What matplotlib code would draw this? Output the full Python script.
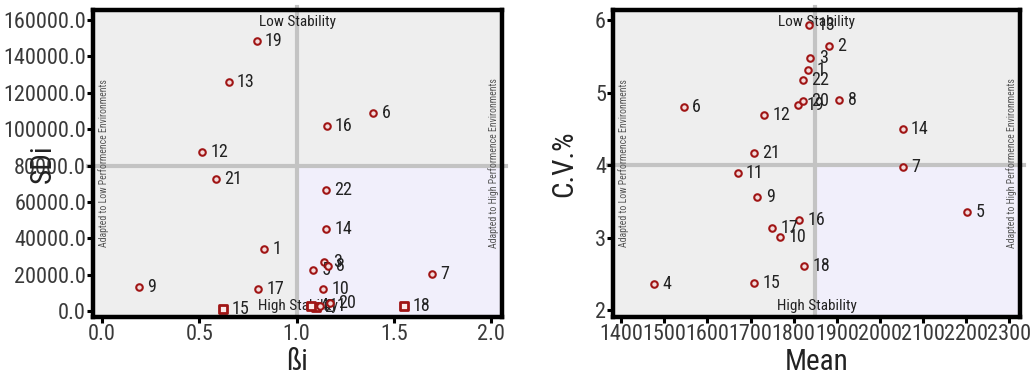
import matplotlib
matplotlib.use("Agg")
import matplotlib.pyplot as plt
from matplotlib import font_manager
from matplotlib.patches import Rectangle

# ---------------- data ----------------
genotypes = ["1", "2", "3", "4", "5", "6", "7", "8", "9", "10", "11",
             "12", "13", "14", "15", "16", "17", "18", "19", "20", "21", "22"]

beta_i = [0.835, 1.10, 1.143, 1.075, 1.085, 1.395, 1.698, 1.160, 0.189, 1.135, 1.12,
          0.513, 0.651, 1.153, 0.624, 1.155, 0.802, 1.553, 0.795, 1.172, 0.586, 1.150]
s2di = [34100, 2300, 26900, 2600, 22500, 109000, 20300, 24900, 13000, 12300, 3000,
        87400, 126000, 45300, 900, 101700, 11900, 2700, 148700, 4500, 72600, 66500]
square_left = ["2", "4", "15", "18"]

mean_yield = [1834, 1881, 1839, 1476, 2202, 1545, 2053, 1906, 1716, 1768, 1670,
              1731, 1835, 2053, 1709, 1812, 1750, 1825, 1810, 1822, 1707, 1821]
cv_pct = [5.31, 5.65, 5.48, 2.36, 3.35, 4.80, 3.97, 4.90, 3.57, 3.01, 3.90,
          4.69, 5.93, 4.50, 2.38, 3.24, 3.13, 2.61, 4.83, 4.88, 4.17, 5.17]

left_xticks = [0.0, 0.5, 1.0, 1.5, 2.0]
left_yticks = [0, 20000, 40000, 60000, 80000, 100000, 120000, 140000, 160000]
right_xticks = [1400, 1500, 1600, 1700, 1800, 1900, 2000, 2100, 2200, 2300]
right_yticks = [2, 3, 4, 5, 6]

left_ref = (1.0, 80000.0)
right_ref = (1850.0, 4.0)

# ---------------- fonts ----------------
avail = {f.name for f in font_manager.fontManager.ttflist}
narrow = None
for cand in ["Liberation Sans Narrow", "Arial Narrow", "DejaVu Sans Condensed",
             "Roboto Condensed", "Open Sans Condensed"]:
    if cand in avail:
        narrow = cand
        break
if narrow is None:
    narrow = "Liberation Sans"
    scale = 0.82
else:
    scale = 1.0
plt.rcParams["font.family"] = [narrow, "DejaVu Sans"]

GRAY_BG = "#eeeeee"
LAV_BG = "#f1effb"
LINE_GRAY = "#c3c3c3"
MK_EDGE = "#a01515"
MK_FACE = "#f3dcdc"
TICK_COL = "#3a3a3a"

fig = plt.figure(figsize=(10.35, 3.88), dpi=100)
ax1 = fig.add_axes([93 / 1035, 1 - 317 / 388, (502 - 93) / 1035, (317 - 10) / 388])
ax2 = fig.add_axes([613 / 1035, 1 - 317 / 388, (1020 - 613) / 1035, (317 - 10) / 388])


def style_panel(ax, xlim, ylim, xticks, yticks, xfmt, yfmt, ref, xlabel, ylabel):
    ax.set_xlim(*xlim)
    ax.set_ylim(*ylim)
    ax.set_facecolor(GRAY_BG)
    rx, ry = ref
    ax.add_patch(Rectangle((rx, ylim[0]), xlim[1] - rx, ry - ylim[0],
                           facecolor=LAV_BG, edgecolor="none", zorder=0.5))
    ax.axvline(rx, color=LINE_GRAY, lw=3, zorder=1, clip_on=False, ymin=0, ymax=1.01)
    ax.axhline(ry, color=LINE_GRAY, lw=3, zorder=1, clip_on=False, xmin=-0.012, xmax=1.01)
    for sp in ax.spines.values():
        sp.set_linewidth(3.2)
        sp.set_color("black")
        sp.set_zorder(5)
    ax.set_xticks(xticks)
    ax.set_yticks(yticks)
    ax.set_xticklabels([xfmt(v) for v in xticks])
    ax.set_yticklabels([yfmt(v) for v in yticks])
    ax.tick_params(axis="both", direction="out", length=4, width=2.2, color="black",
                   labelsize=16 * scale, labelcolor=TICK_COL, pad=1)
    ax.set_xlabel(xlabel, fontsize=21 * scale, color="#222222", labelpad=2)
    ax.set_ylabel(ylabel, fontsize=21 * scale, color="#222222", labelpad=0)
    ax.text(0.5, 0.985, "Low Stability", transform=ax.transAxes, ha="center", va="top",
            fontsize=11 * scale, color="#222222", zorder=3)
    ax.text(0.5, 0.012, "High Stability", transform=ax.transAxes, ha="center", va="bottom",
            fontsize=11 * scale, color="#222222", zorder=3)
    ax.text(0.012, 0.5, "Adapted to Low Performence Environments", transform=ax.transAxes,
            rotation=90, ha="left", va="center", fontsize=7 * scale, color="#555555", zorder=3)
    ax.text(0.992, 0.5, "Adapted to High Performence Environments", transform=ax.transAxes,
            rotation=90, ha="right", va="center", fontsize=7 * scale, color="#555555", zorder=3)


style_panel(ax1, (-0.047, 2.057), (-3300, 165500), left_xticks, left_yticks,
            lambda v: f"{v:.1f}", lambda v: f"{v:.1f}", left_ref, "ßi", "SDi")
style_panel(ax2, (1381, 2325), (1.91, 6.14), right_xticks, right_yticks,
            lambda v: f"{v:d}", lambda v: f"{v:d}", right_ref, "Mean", "C.V.%")
ax1.yaxis.set_label_coords(-0.088, 0.5)
ax2.yaxis.set_label_coords(-0.085, 0.5)

# left panel points
for g, x, y in zip(genotypes, beta_i, s2di):
    if g in square_left:
        ax1.scatter([x], [y], marker="s", s=34, facecolor="#fbeaea", edgecolor=MK_EDGE,
                    linewidth=2.0, zorder=4)
    else:
        ax1.scatter([x], [y], marker="o", s=22, facecolor=MK_FACE, edgecolor=MK_EDGE,
                    linewidth=1.5, zorder=4)
    ax1.annotate(g, (x, y), xytext=(6, 0), textcoords="offset points", ha="left",
                 va="center", fontsize=13 * scale, color="#222222", zorder=4)

# right panel points
for g, x, y in zip(genotypes, mean_yield, cv_pct):
    ax2.scatter([x], [y], marker="o", s=22, facecolor=MK_FACE, edgecolor=MK_EDGE,
                linewidth=1.5, zorder=4)
    ax2.annotate(g, (x, y), xytext=(6, 0), textcoords="offset points", ha="left",
                 va="center", fontsize=13 * scale, color="#222222", zorder=4)

fig.savefig("out.png", dpi=100)
